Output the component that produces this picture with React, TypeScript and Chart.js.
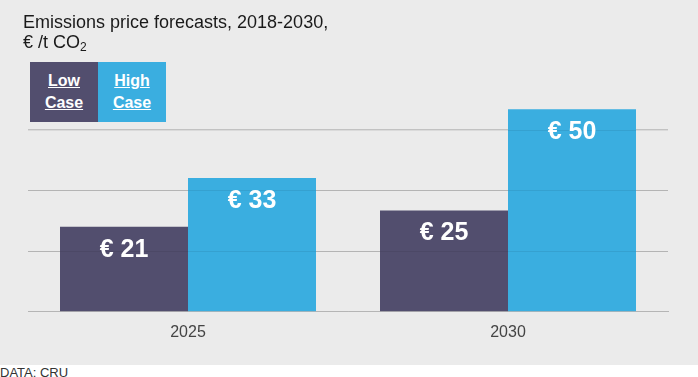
import React, { useEffect, useRef } from "react";
import { Chart, registerables } from "chart.js";

Chart.register(...registerables);

const categories = ["2025", "2030"];
const lowCase = [21, 25];
const highCase = [33, 50];
const gridTicks = [0, 15, 30, 45];

const LOW_COLOR = "#524e6e";
const HIGH_COLOR = "#3aaee0";
const FONT = "'Liberation Sans', Arial, sans-serif";

export default function App() {
  const ref = useRef<HTMLCanvasElement | null>(null);

  useEffect(() => {
    document.body.style.margin = "0";
    const labelPlugin = {
      id: "barLabels",
      afterDatasetsDraw(chart: any) {
        const ctx = chart.ctx;
        const area = chart.chartArea;
        const yScale = chart.scales.y;
        ctx.save();
        ctx.strokeStyle = "rgba(0,0,0,0.07)";
        ctx.lineWidth = 1;
        gridTicks.slice(1).forEach((v) => {
          const y = Math.round(yScale.getPixelForValue(v)) + 0.5;
          ctx.beginPath();
          ctx.moveTo(area.left, y);
          ctx.lineTo(area.right, y);
          ctx.stroke();
        });
        ctx.fillStyle = "#ffffff";
        ctx.font = `bold 25px ${FONT}`;
        ctx.textAlign = "center";
        ctx.textBaseline = "middle";
        chart.data.datasets.forEach((ds: any, di: number) => {
          const meta = chart.getDatasetMeta(di);
          meta.data.forEach((bar: any, i: number) => {
            ctx.fillText(`€ ${ds.data[i]}`, bar.x, bar.y + 23);
          });
        });
        ctx.restore();
      },
    };
    const chart = new Chart(ref.current!, {
      type: "bar",
      data: {
        labels: categories,
        datasets: [
          { label: "Low Case", data: lowCase, backgroundColor: LOW_COLOR, categoryPercentage: 0.8, barPercentage: 1 },
          { label: "High Case", data: highCase, backgroundColor: HIGH_COLOR, categoryPercentage: 0.8, barPercentage: 1 },
        ],
      },
      options: {
        animation: false,
        responsive: false,
        maintainAspectRatio: false,
        layout: { padding: { left: 28, right: 30, top: 89, bottom: 12 } },
        plugins: { legend: { display: false }, tooltip: { enabled: false }, title: { display: false } },
        scales: {
          x: {
            grid: { display: false, drawTicks: false },
            border: { display: true, color: "#b5b5b5" },
            ticks: { color: "#444444", font: { family: FONT, size: 16 }, padding: 11 },
          },
          y: {
            min: 0,
            max: 55,
            afterBuildTicks: (scale: any) => {
              scale.ticks = gridTicks.map((v) => ({ value: v }));
            },
            grid: { color: "#c2c2c2", drawTicks: false },
            border: { display: false },
            ticks: { display: false },
          },
        },
      },
      plugins: [labelPlugin],
    });
    return () => chart.destroy();
  }, []);

  const legendBox = (bg: string, a: string, b: string, left: number) => (
    <div
      style={{
        position: "absolute",
        left,
        top: 62,
        width: 68,
        height: 60,
        background: bg,
        color: "#fff",
        fontFamily: FONT,
        fontWeight: "bold",
        fontSize: 16,
        lineHeight: "22px",
        textAlign: "center",
        display: "flex",
        flexDirection: "column",
        justifyContent: "center",
      }}
    >
      <span style={{ textDecoration: "underline" }}>{a}</span>
      <span style={{ textDecoration: "underline" }}>{b}</span>
    </div>
  );

  return (
    <div style={{ position: "absolute", left: 0, top: 0, width: 698, height: 377, background: "#ffffff" }}>
      <div style={{ position: "absolute", left: 0, top: 0, width: 698, height: 365, background: "#ebebeb" }}>
        <canvas ref={ref} width={698} height={365} style={{ position: "absolute", left: 0, top: 0 }} />
        <div
          style={{
            position: "absolute",
            left: 23,
            top: 12,
            fontFamily: FONT,
            fontSize: 18,
            lineHeight: "20px",
            color: "#1a1a1a",
          }}
        >
          Emissions price forecasts, 2018-2030,
          <br />€ /t CO<sub style={{ fontSize: 12, verticalAlign: "-3px", lineHeight: 0 }}>2</sub>
        </div>
        {legendBox(LOW_COLOR, "Low", "Case", 30)}
        {legendBox(HIGH_COLOR, "High", "Case", 98)}
      </div>
      <div
        style={{
          position: "absolute",
          left: 0,
          top: 365,
          fontFamily: FONT,
          fontSize: 13,
          color: "#333",
        }}
      >
        DATA: CRU
      </div>
    </div>
  );
}
